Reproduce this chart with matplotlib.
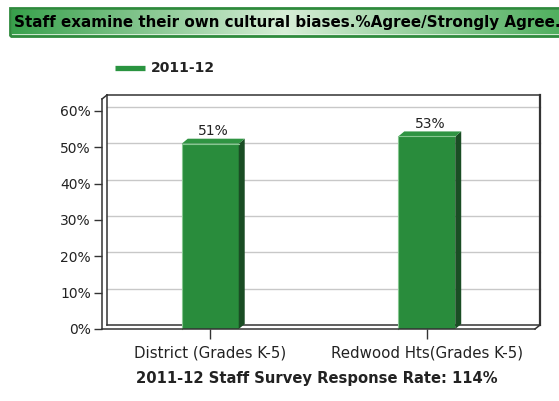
import numpy as np
import matplotlib
matplotlib.use('Agg')
import matplotlib.pyplot as plt
from matplotlib.patches import Rectangle, Polygon
from matplotlib.lines import Line2D

# data
categories = ['District (Grades K-5)', 'Redwood Hts(Grades K-5)']
values = [51, 53]
series_name = '2011-12'
yticks = [0, 10, 20, 30, 40, 50, 60]
title = 'Staff examine their own cultural biases.%Agree/Strongly Agree.'
subtitle = '2011-12 Staff Survey Response Rate: 114%'

# figure geometry (pixels)
W, H = 559, 401
fig = plt.figure(figsize=(W / 100, H / 100), dpi=100)
fig.patch.set_facecolor('white')

front = '#298c3c'
side = '#1a4d24'
topc = '#2f9442'
edge = '#333333'
reg = 'DejaVu Sans'
bold = 'DejaVu Sans'

# plot area: front left edge at x=102, floor at y=329, top at y=99
ax_l, ax_r, ax_b, ax_t = 102, 535, 329, 99
ax = fig.add_axes([ax_l / W, (H - ax_b) / H, (ax_r - ax_l) / W, (ax_b - ax_t) / H])
xmin, xmax, ymax = -0.5, 1.5, 63.3
ax.set_xlim(xmin, xmax)
ax.set_ylim(0, ymax)
ax.patch.set_alpha(0)

# pixel -> data conversion for the 3d offsets
px_x = (xmax - xmin) / (ax_r - ax_l)
px_y = ymax / (ax_b - ax_t)
dxw, dyw = 5 * px_x, 4 * px_y      # back wall depth
dxb, dyb = 6 * px_x, 5 * px_y      # bar depth

# gridlines on the back wall
for v in yticks[1:]:
    ax.plot([xmin + dxw, xmax + dxw], [v + dyw] * 2, color='#c8c8c8', lw=1.0,
            clip_on=False, zorder=1)

# back wall frame
lk = dict(color=edge, lw=1.1, clip_on=False, zorder=2, solid_capstyle='projecting')
ax.plot([xmin + dxw] * 2, [dyw, ymax + dyw], **lk)
ax.plot([xmin + dxw, xmax + dxw], [ymax + dyw] * 2, **lk)
ax.plot([xmax + dxw] * 2, [dyw, ymax + dyw], color=edge, lw=1.6, clip_on=False, zorder=2)
ax.plot([xmin + dxw, xmax + dxw], [dyw] * 2, **lk)
ax.plot([xmin, xmin + dxw], [ymax, ymax + dyw], **lk)
ax.plot([xmax, xmax + dxw], [0, dyw], **lk)

# bars with 3d faces
bw = 0.263
for i, v in enumerate(values):
    x0, x1 = i - bw / 2, i + bw / 2
    ax.add_patch(Rectangle((x0, 0), bw, v, fc=front, ec='none', zorder=3))
    ax.add_patch(Polygon([(x1, 0), (x1 + dxb, dyb), (x1 + dxb, v + dyb), (x1, v)],
                         closed=True, fc=side, ec='none', zorder=3, clip_on=False))
    ax.add_patch(Polygon([(x0, v), (x0 + dxb, v + dyb), (x1 + dxb, v + dyb), (x1, v)],
                         closed=True, fc=topc, ec='none', zorder=3, clip_on=False))
    ax.plot([x0, x0, x1], [0, v, v], color='#86c790', lw=0.8, zorder=4, clip_on=False)
    ax.annotate(f'{v}%', (i + dxb / 2, v + dyb), xytext=(0, 0.5), textcoords='offset points',
                ha='center', va='bottom', fontsize=10, family=reg, color='#222222',
                annotation_clip=False)

# front axis lines and ticks
for s in ['top', 'right']:
    ax.spines[s].set_visible(False)
for s in ['left', 'bottom']:
    ax.spines[s].set_color(edge)
    ax.spines[s].set_linewidth(1.1)
    ax.spines[s].set_zorder(5)
ax.set_yticks(yticks)
ax.set_yticklabels([f'{v}%' for v in yticks], family=reg, fontsize=10, color='#222222')
ax.set_xticks(range(len(categories)))
ax.set_xticklabels(categories, family=reg, fontsize=10.8, color='#222222')
ax.tick_params(axis='y', length=6, width=1, color=edge, pad=2)
ax.tick_params(axis='x', length=7, width=1, color=edge, pad=5)

# legend
ly = (H - 68) / H
fig.add_artist(Line2D([115 / W, 145 / W], [ly, ly], color='#2a9440', lw=3.8,
                      solid_capstyle='butt'))
fig.text(151 / W, ly, series_name, fontsize=10, fontweight='bold', family=bold,
         color='#222222', va='center', ha='left')

# bottom title
fig.text(317 / W, (H - 378) / H, subtitle, fontsize=10.6, fontweight='bold', family=bold,
         color='#222222', ha='center', va='center')

# title banner with horizontal gradient
bax = fig.add_axes([10 / W, (H - 36) / H, (W - 10) / W, 28 / H])
bax.set_axis_off()
stops_x = [0.0, 0.5, 1.0]
stops_c = np.array([[55, 160, 75], [215, 238, 215], [80, 175, 95]]) / 255.0
xs = np.linspace(0, 1, 300)
grad = np.stack([np.interp(xs, stops_x, stops_c[:, k]) for k in range(3)], axis=-1)
bax.imshow(grad[None, :, :], aspect='auto', extent=[0, 1, 0, 1])
bax.add_patch(Rectangle((0.002, 0.04), 1.0, 0.92, fill=False, ec='#e6f4e6', lw=1.2,
                        transform=bax.transAxes))
bax.add_patch(Rectangle((0, 0), 1.1, 1, fill=False, ec='#2e8a3c', lw=2.0,
                        transform=bax.transAxes, clip_on=False))
bax.set_xlim(0, 1)
bax.set_ylim(0, 1)
fig.text(14 / W, (H - 22) / H, title, fontsize=10.9, fontweight='bold', family=bold,
         color='black', ha='left', va='center')

fig.savefig('out.png', dpi=100)
